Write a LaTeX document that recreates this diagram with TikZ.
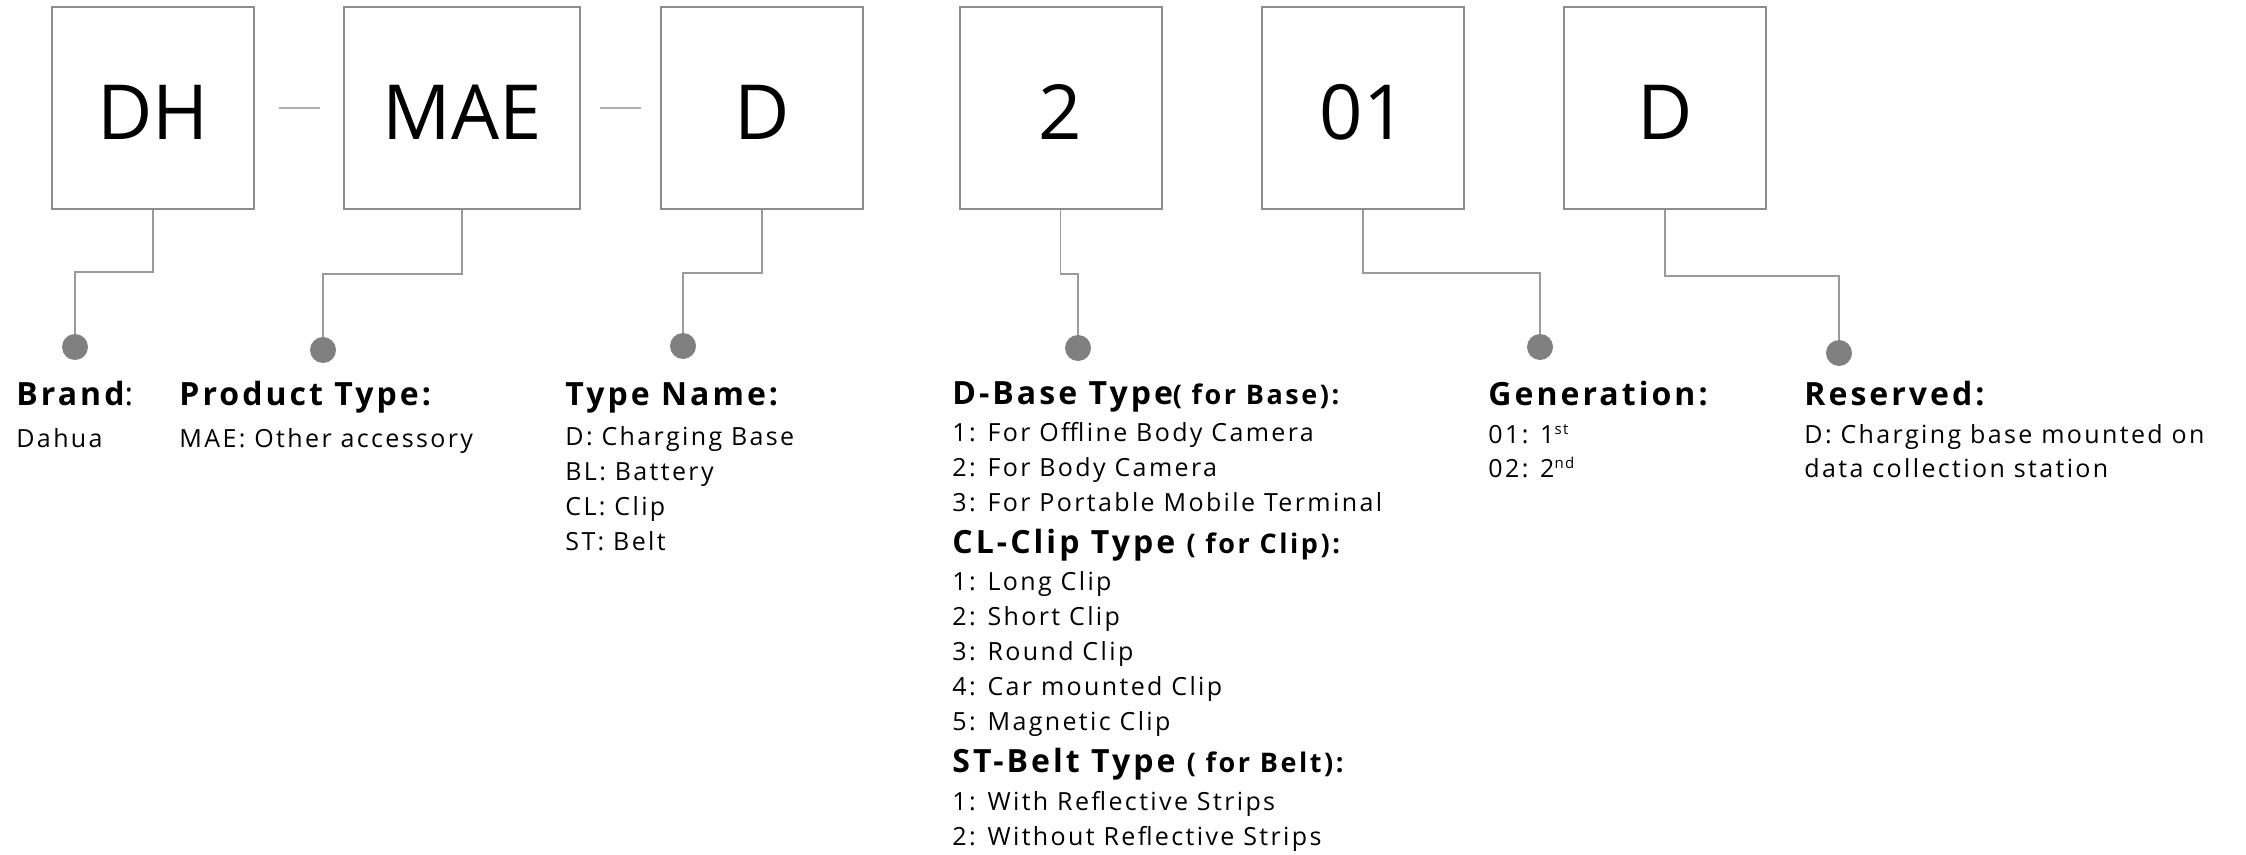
\documentclass[tikz,border=0pt]{standalone}
\usepackage{fontspec}
\setmainfont{Open Sans}[LetterSpace=9.5]
\newfontfamily\codefont{Open Sans}
\usetikzlibrary{positioning}

\definecolor{boxgray}{HTML}{8C8C8C}
\definecolor{linegray}{HTML}{9A9A9A}
\definecolor{dotgray}{HTML}{808080}

\tikzset{
  codebox/.style={draw=boxgray, line width=1pt, minimum width=101pt, minimum height=101pt,
    inner sep=0pt, font=\codefont\fontsize{38pt}{38pt}\selectfont, text height=32pt, text depth=0pt},
  hyphen/.style={draw=linegray!80, line width=1pt},
  link/.style={draw=linegray, line width=0.6pt},
  pin/.style={circle, fill=dotgray, minimum size=13pt, inner sep=0pt},
  head/.style={anchor=base west, inner sep=0pt, font=\fontsize{16pt}{16pt}\selectfont\bfseries},
  body/.style={anchor=base west, inner sep=0pt, font=\fontsize{12.5pt}{12.5pt}\selectfont},
}
\newcommand{\subhead}[1]{{\fontsize{13.5pt}{13.5pt}\selectfont #1}}
\newcommand{\ordsup}[1]{\raisebox{0.6ex}{\fontsize{7.5pt}{7.5pt}\selectfont #1}}

\begin{document}
\begin{tikzpicture}[x=0.5pt, y=-0.5pt]
\useasboundingbox (0,0) rectangle (2246,855);

% code boxes
\node[codebox] (dh) at (153,108) {DH};
\node[codebox, minimum width=118pt] (mae) at (462,108) {MAE};
\node[codebox] (type) at (762,108) {D};
\node[codebox] (base) at (1060.5,108) {2};
\node[codebox] (gen) at (1363,108) {01};
\node[codebox] (resv) at (1665,108) {D};

% hyphens
\draw[hyphen, shorten <=11.75pt, shorten >=11.75pt] (dh) -- (mae);
\draw[hyphen, shorten <=9.5pt, shorten >=9.5pt] (mae) -- (type);

% pins
\node[pin] (p-dh) at (75,347) {};
\node[pin] (p-mae) at (323,350) {};
\node[pin] (p-type) at (683,346) {};
\node[pin] (p-base) at (1078,348) {};
\node[pin] (p-gen) at (1540,347) {};
\node[pin] (p-resv) at (1839,353) {};

% connectors
\draw[link] (dh.south) -- ++(0,62) -| (p-dh);
\draw[link] (mae.south) -- ++(0,64) -| (p-mae);
\draw[link] (type.south) -- ++(0,63) -| (p-type);
\draw[link] (base.south) -- ++(0,64) -| (p-base);
\draw[link] (gen.south) -- ++(0,63) -| (p-gen);
\draw[link] (resv.south) -- ++(0,66) -| (p-resv);

% brand
\node[head] (brand) at (16,405) {Brand\mdseries:};
\node[body] (brand-0) at (16,447) {Dahua};

% product type
\node[head] (prod) at (179,405) {Product Type:};
\node[body] (prod-0) at (179,447) {MAE: Other accessory};

% type name
\node[head] (tname) at (565,405) {Type Name:};
\foreach \txt [count=\i from 0] in {D: Charging Base, BL: Battery, CL: Clip, ST: Belt}
  \node[body] (tname-\i) at (565,445+35*\i) {\txt};

% base / clip / belt types
\node[head] (dbase) at (952,404) {D-Base Type\subhead{( for Base):}};
\foreach \txt [count=\i from 0] in {1: For Offline Body Camera, 2: For Body Camera,
    3: For Portable Mobile Terminal}
  \node[body] (dbase-\i) at (952,441+35*\i) {\txt};
\node[head] (clclip) at (952,553) {CL-Clip Type \subhead{( for Clip):}};
\foreach \txt [count=\i from 0] in {1: Long Clip, 2: Short Clip, 3: Round Clip,
    4: Car mounted Clip, 5: Magnetic Clip}
  \node[body] (clclip-\i) at (952,590+35*\i) {\txt};
\node[head] (stbelt) at (952,772) {ST-Belt Type \subhead{( for Belt):}};
\foreach \txt [count=\i from 0] in {1: With Reflective Strips, 2: Without Reflective Strips}
  \node[body] (stbelt-\i) at (952,810+35*\i) {\txt};

% generation
\node[head] (gener) at (1488,405) {Generation:};
\node[body] (gener-0) at (1488,443) {01: 1\ordsup{st}};
\node[body] (gener-1) at (1488,477) {02: 2\ordsup{nd}};

% reserved
\node[head] (reserv) at (1804,405) {Reserved:};
\node[body] (reserv-0) at (1804,443) {D: Charging base mounted on};
\node[body] (reserv-1) at (1804,477) {data collection station};
\end{tikzpicture}
\end{document}
